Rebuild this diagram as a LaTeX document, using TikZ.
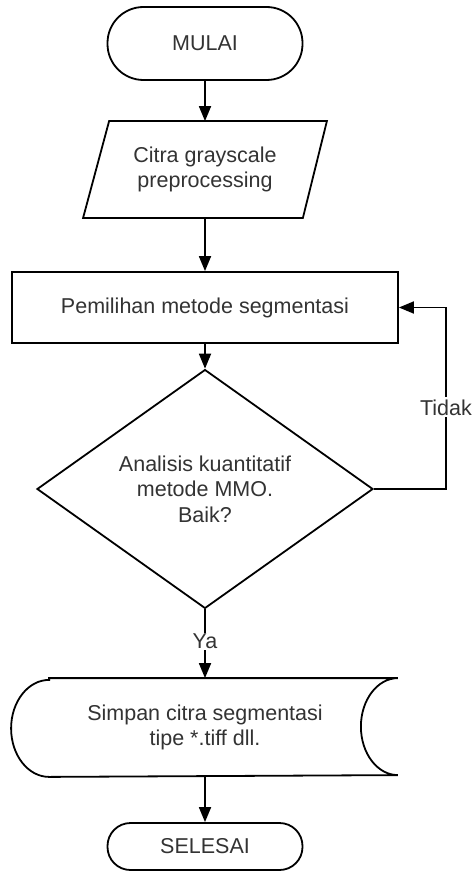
\documentclass[tikz,border=0pt]{standalone}
\usepackage{fontspec}
\setmainfont{Liberation Sans}
\usetikzlibrary{shapes.geometric,arrows.meta}
\definecolor{txt}{HTML}{333333}
\begin{document}
\begin{tikzpicture}[x=1pt,y=-1pt,
  every node/.style={font=\fontsize{21.5}{25.5}\selectfont, text=txt, align=center},
  line width=1.8pt,
  arr/.style={-{Triangle[length=15pt,width=12pt]}},
  term/.style={draw, minimum width=195pt}]
\useasboundingbox[fill=white] (0,0) rectangle (473,872);
\node[term, minimum height=73pt, rounded corners=36pt] (mulai) at (205,43.5) {MULAI};
\node[minimum width=192pt, minimum height=95pt] (inp) at (205,169.5) {Citra grayscale\\preprocessing};
\draw ([xshift=1pt]inp.north west) -- ([xshift=25pt]inp.north east) -- ([xshift=1pt]inp.south east) -- ([xshift=-25pt]inp.south west) -- cycle;
\node[draw, minimum width=386pt, minimum height=71pt] (pil) at (205,307.5) {Pemilihan metode segmentasi};
\node[draw, diamond, minimum width=336pt, minimum height=188pt, inner sep=0pt] (dec) at (205,489) {Analisis kuantitatif\\metode MMO.\\Baik?};
\node[minimum width=310pt, minimum height=97pt] (simp) at (205,727.5) {Simpan citra segmentasi\\tipe *.tiff dll.};
\draw (simp.north west) -- ([xshift=37pt]simp.north east) arc[start angle=270,end angle=90,x radius=37,y radius=48.5] -- (simp.south west) arc[start angle=90,end angle=270,x radius=38,y radius=48.5] -- cycle;
\node[term, minimum height=47pt, rounded corners=23pt] (sel) at (205,846.5) {SELESAI};
\coordinate (fb) at (446,307.5);
\draw[arr] (mulai.south) -- (inp.north);
\draw[arr] (inp.south) -- (pil.north);
\draw[arr] (pil.south) -- (dec.north);
\draw[arr] (dec.south) -- node[pos=0.47, fill=white, inner sep=1pt] {Ya} (simp.north);
\draw[arr] (dec.east) -- (dec.east -| fb) -- node[pos=0.45, fill=white, inner sep=2pt] {Tidak} (fb) -- (pil.east);
\draw[arr] (simp.south) -- (sel.north);
\end{tikzpicture}
\end{document}
